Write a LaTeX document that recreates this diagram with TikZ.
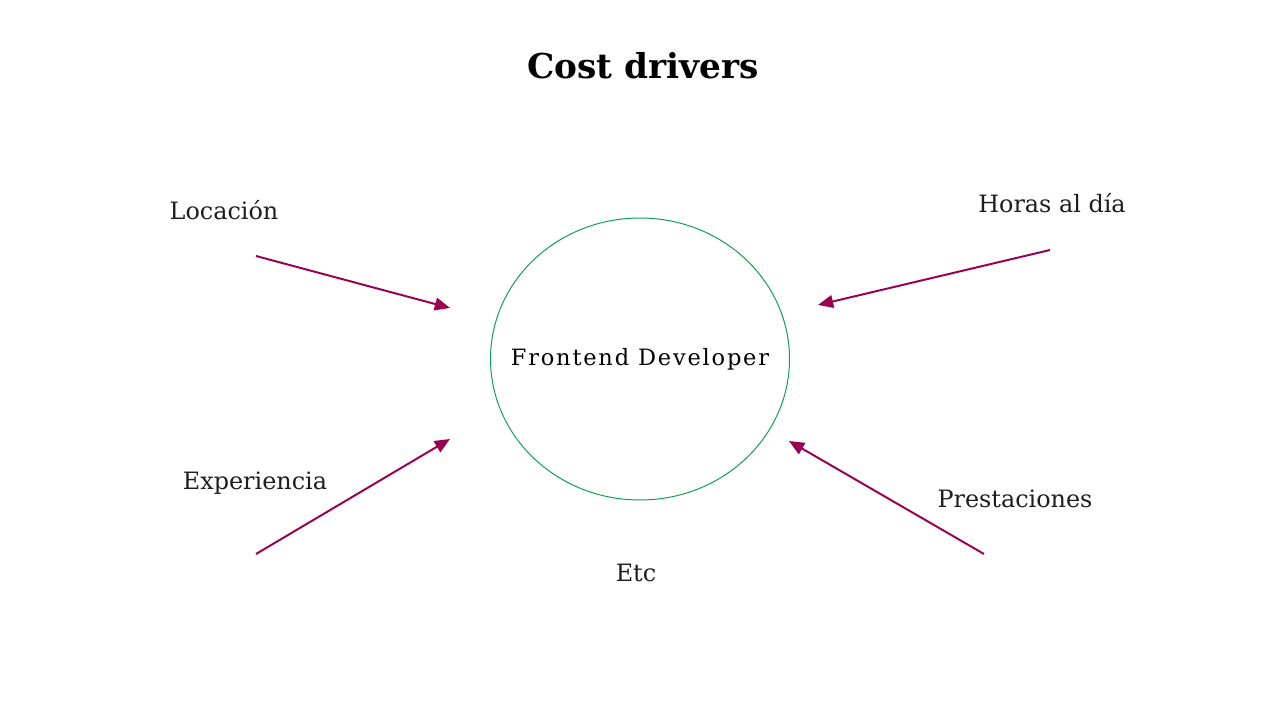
\documentclass[tikz,border=0pt]{standalone}
\usepackage{fontspec}
\setmainfont{DejaVu Serif}
\usetikzlibrary{arrows.meta}

\definecolor{driverred}{RGB}{153,0,80}
\definecolor{devgreen}{RGB}{15,157,88}
\definecolor{inktext}{RGB}{30,30,30}

\tikzset{
  driver/.style={-{Triangle[length=0.38cm,width=0.32cm]},line width=1.4pt,color=driverred},
  factor/.style={anchor=center,inner sep=0pt,text=inktext,font=\fontsize{17}{20}\selectfont}
}

\begin{document}
\begin{tikzpicture}
    \useasboundingbox (0,0) rectangle (32,18);

    \node [anchor=center,inner sep=0pt,font=\fontsize{24.4}{28}\selectfont\bfseries]
    (title) at (16.075,16.35) {Cost drivers};

    \node [anchor=center,inner sep=0pt,
    font=\fontsize{16}{20}\selectfont\addfontfeature{LetterSpace=8}]
    (dev) at (16,9.025) {Frontend Developer};
    \draw [devgreen,line width=0.7pt] (dev.center) ellipse [x radius=3.7375cm,y radius=3.525cm];

    \node [factor] (loc) at (5.6,12.75) {Locación};
    \node [factor] (horas) at (26.3,12.92) {Horas al día};
    \node [factor] (exp) at (6.375,5.93) {Experiencia};
    \node [factor] (prest) at (25.375,5.53) {Prestaciones};
    \node [factor] (etc) at (15.9,3.68) {Etc};

    \coordinate (loc0) at (6.4,11.6);
    \coordinate (loc1) at (11.25,10.3);
    \coordinate (horas0) at (26.25,11.75);
    \coordinate (horas1) at (20.45,10.375);
    \coordinate (exp0) at (6.4,4.15);
    \coordinate (exp1) at (11.25,7.025);
    \coordinate (prest0) at (24.6,4.15);
    \coordinate (prest1) at (19.725,6.975);

    \draw [driver] (loc0) -- (loc1);
    \draw [driver] (horas0) -- (horas1);
    \draw [driver] (exp0) -- (exp1);
    \draw [driver] (prest0) -- (prest1);
  \end{tikzpicture}
\end{document}
